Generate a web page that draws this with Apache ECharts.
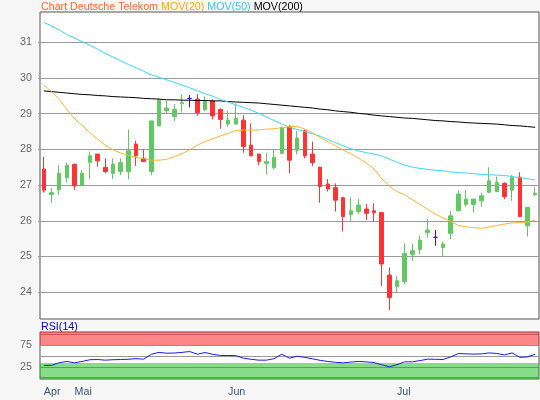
<!DOCTYPE html>
<html>
<head>
<meta charset="utf-8">
<script src="https://cdn.jsdelivr.net/npm/echarts@6/dist/echarts.min.js"></script>
<style>
  html, body { margin: 0; background: #f6f6f6; }
  #chart { width: 540px; height: 400px; }
</style>
</head>
<body>
<div id="chart"></div>
<script>
const FONT = '"Liberation Sans", Arial, sans-serif';

// daily candles
const opens = [27.45, 26.74, 26.88, 27.21, 27.58, 27.00, 27.64, 27.87, 27.50, 27.33,
  27.38, 27.38, 28.15, 27.75, 27.38, 28.66, 29.08, 28.92, 29.28, 29.43,
  29.41, 29.12, 29.36, 29.12, 28.71, 28.71, 28.82, 28.12, 27.87, 27.61,
  27.49, 27.89, 28.64, 27.98, 28.52, 27.87, 27.50, 27.03, 26.93, 26.65,
  26.18, 26.26, 26.33, 26.28, 26.23, 24.48, 24.16, 24.30, 25.06, 25.20,
  25.67, 25.54, 25.25, 25.65, 26.28, 26.46, 26.46, 26.56, 26.80, 26.82,
  27.05, 26.86, 27.22, 25.86, 26.73];
const closes = [26.86, 26.79, 27.33, 27.56, 26.98, 27.33, 27.82, 27.68, 27.38, 27.59,
  27.63, 27.96, 27.82, 27.66, 28.80, 29.38, 29.16, 29.12, 29.31, 29.43,
  29.03, 29.34, 28.94, 28.84, 28.82, 28.87, 28.08, 27.82, 27.66, 27.66,
  27.78, 28.62, 27.70, 28.32, 27.82, 27.63, 26.96, 26.89, 26.58, 26.12,
  26.28, 26.44, 26.21, 26.23, 24.79, 23.85, 24.32, 25.09, 25.16, 25.46,
  25.74, 25.54, 25.35, 26.14, 26.75, 26.61, 26.61, 26.70, 27.12, 27.08,
  26.68, 27.22, 26.12, 26.38, 26.77];
const lows = [26.79, 26.50, 26.72, 27.07, 26.86, 27.00, 27.17, 27.52, 27.33, 27.17,
  27.28, 27.16, 27.54, 27.66, 27.28, 28.66, 29.01, 28.80, 29.03, 29.18,
  28.94, 29.08, 28.84, 28.58, 28.64, 28.70, 27.91, 27.82, 27.56, 27.30,
  27.45, 27.87, 27.33, 27.86, 27.75, 27.54, 26.51, 26.82, 26.26, 25.70,
  26.00, 26.18, 26.02, 25.98, 24.18, 23.50, 24.00, 24.23, 24.88, 25.07,
  25.53, 25.30, 25.02, 25.49, 26.28, 26.40, 26.23, 26.40, 26.77, 26.80,
  26.61, 26.56, 26.12, 25.56, 26.70];
const highs = [27.79, 26.92, 27.56, 27.63, 27.61, 27.42, 27.94, 27.87, 27.75, 27.75,
  27.75, 28.56, 28.24, 28.00, 28.80, 29.43, 29.36, 29.27, 29.55, 29.52,
  29.55, 29.50, 29.40, 29.15, 29.08, 29.29, 28.96, 28.73, 27.87, 27.91,
  27.98, 28.62, 28.68, 28.52, 28.56, 28.22, 27.52, 27.17, 27.05, 26.65,
  26.65, 26.61, 26.47, 26.49, 26.23, 24.69, 24.46, 25.37, 25.35, 25.58,
  26.05, 25.74, 25.42, 26.28, 26.86, 26.86, 26.61, 26.79, 27.50, 27.24,
  27.08, 27.28, 27.36, 26.38, 26.94];

const mov20 = [29.80, 29.62, 29.40, 29.12, 28.86, 28.67, 28.47, 28.29, 28.12, 27.99,
  27.90, 27.83, 27.78, 27.74, 27.70, 27.70, 27.72, 27.80, 27.88, 27.99,
  28.12, 28.22, 28.30, 28.38, 28.45, 28.53, 28.54, 28.54, 28.55, 28.57,
  28.58, 28.61, 28.64, 28.64, 28.57, 28.47, 28.33, 28.22, 28.10, 27.98,
  27.88, 27.76, 27.62, 27.46, 27.18, 26.98, 26.82, 26.73, 26.59, 26.46,
  26.33, 26.19, 26.08, 25.98, 25.87, 25.83, 25.81, 25.79, 25.83, 25.87,
  25.91, 25.94, 25.95, 25.97, 26.02];
const mov50 = [31.56, 31.46, 31.35, 31.22, 31.12, 31.02, 30.92, 30.81, 30.69, 30.59,
  30.49, 30.38, 30.29, 30.19, 30.09, 30.02, 29.95, 29.88, 29.80, 29.73,
  29.64, 29.56, 29.49, 29.40, 29.33, 29.25, 29.18, 29.10, 29.01, 28.91,
  28.81, 28.71, 28.62, 28.56, 28.50, 28.44, 28.37, 28.28, 28.19, 28.10,
  28.02, 27.96, 27.91, 27.87, 27.82, 27.73, 27.64, 27.56, 27.50, 27.47,
  27.44, 27.42, 27.40, 27.37, 27.35, 27.34, 27.32, 27.30, 27.29, 27.28,
  27.27, 27.24, 27.21, 27.18, 27.14];
const mov200 = [29.64, 29.62, 29.60, 29.58, 29.56, 29.54, 29.53, 29.51, 29.50, 29.48,
  29.47, 29.46, 29.45, 29.43, 29.42, 29.41, 29.39, 29.39, 29.38, 29.38,
  29.37, 29.37, 29.36, 29.36, 29.34, 29.33, 29.32, 29.31, 29.30, 29.28,
  29.26, 29.24, 29.22, 29.20, 29.18, 29.16, 29.13, 29.11, 29.08, 29.06,
  29.04, 29.01, 28.99, 28.96, 28.94, 28.92, 28.90, 28.88, 28.87, 28.85,
  28.83, 28.81, 28.80, 28.78, 28.77, 28.75, 28.74, 28.73, 28.72, 28.71,
  28.69, 28.67, 28.66, 28.64, 28.62];

const rsi = [28.4, 28.4, 34.5, 37.5, 34.3, 37.5, 41.5, 42, 40.5, 41.5,
  42, 42.5, 44, 42.8, 54, 58.5, 56.5, 57, 58.5, 60.4,
  54.2, 58.1, 54, 51.3, 51.3, 51, 45, 42.5, 40.5, 40.5,
  44, 54.2, 45, 49.7, 47, 43.5, 40, 37.5, 35.5, 34.3,
  36, 37.5, 36.5, 35, 30, 25.2, 30, 36.6, 36.6, 39.5,
  42.8, 42.5, 42, 48, 55.8, 55, 54.5, 55, 57.2, 56,
  52.6, 57.2, 47, 48, 54.2];

// first trading day of each month (category index) and its label
const monthStarts = [0, 4, 24, 46];
const monthLabels = ['Apr', 'Mai', 'Jun', 'Jul'];

const priceTicks = [24, 25, 26, 27, 28, 29, 30, 31];
const rsiGrid = [0, 25, 50, 75, 100];
const rsiLabels = [25, 75];
const rsiHighBand = [75, 105.5];
const rsiLowBand = [-3, 34];

const days = opens.map((_, i) => String(i));
const candles = opens.map((o, i) => [o, closes[i], lows[i], highs[i]]);
const isMonthStart = (index) => monthStarts.includes(index);

const UP = '#62c962';
const DOWN = '#ff3333';
const AXIS_TEXT = '#3d5470';

const chart = echarts.init(document.getElementById('chart'));
chart.setOption({
  animation: false,
  backgroundColor: '#f6f6f6',
  textStyle: { fontFamily: FONT },
  title: [
    {
      text: '{a|Chart Deutsche Telekom} {b|MOV(20)} {c|MOV(50)} {d|MOV(200)}',
      left: 41,
      top: 2,
      padding: 0,
      textStyle: {
        fontFamily: FONT,
        fontSize: 10.7,
        fontWeight: 'normal',
        rich: {
          a: { color: '#ff6633', fontSize: 10.7, fontFamily: FONT },
          b: { color: '#ffaa00', fontSize: 10.7, fontFamily: FONT },
          c: { color: '#33ccee', fontSize: 10.7, fontFamily: FONT },
          d: { color: '#000000', fontSize: 10.7, fontFamily: FONT },
        },
      },
    },
    {
      text: 'RSI(14)',
      left: 41,
      top: 322,
      padding: 0,
      textStyle: { color: '#0000ee', fontFamily: FONT, fontSize: 10.7, fontWeight: 'normal' },
    },
  ],
  grid: [
    { left: 40, right: 1, top: 12, height: 307, show: true, backgroundColor: '#fff', borderColor: '#555', borderWidth: 1 },
    { left: 40, right: 1, top: 332, height: 47, show: true, backgroundColor: '#fff', borderColor: '#555', borderWidth: 1 },
  ],
  xAxis: [
    { type: 'category', gridIndex: 0, data: days, boundaryGap: true, show: false },
    {
      type: 'category',
      gridIndex: 1,
      data: days,
      boundaryGap: true,
      axisLine: { show: false },
      axisTick: { alignWithLabel: true, interval: isMonthStart, length: 4, lineStyle: { color: AXIS_TEXT } },
      axisLabel: {
        interval: isMonthStart,
        formatter: (value, index) => monthLabels[monthStarts.indexOf(index)] || '',
        align: 'left',
        margin: 8,
        color: AXIS_TEXT,
        fontFamily: FONT,
        fontSize: 10.7,
      },
      splitLine: { show: false },
    },
  ],
  yAxis: [
    {
      type: 'value',
      gridIndex: 0,
      min: 23.25,
      max: 31.85,
      axisLine: { show: false },
      axisTick: { show: true, length: 2, customValues: priceTicks, lineStyle: { color: '#999' } },
      axisLabel: { customValues: priceTicks, color: '#666', fontFamily: FONT, fontSize: 10.7, margin: 8 },
      splitLine: { lineStyle: { color: '#999', width: 1 } },
    },
    {
      type: 'value',
      gridIndex: 1,
      min: -3,
      max: 105.5,
      axisLine: { show: false },
      axisTick: { show: false, customValues: rsiGrid },
      axisLabel: { customValues: rsiLabels, color: '#666', fontFamily: FONT, fontSize: 10.7, margin: 8 },
      splitLine: { lineStyle: { color: '#999', width: 1 } },
    },
  ],
  series: [
    {
      type: 'candlestick',
      xAxisIndex: 0,
      yAxisIndex: 0,
      data: candles,
      barWidth: 4,
      itemStyle: {
        color: UP,
        color0: DOWN,
        borderColor: UP,
        borderColor0: DOWN,
        borderColorDoji: '#3a10cc',
        borderWidth: 1,
      },
    },
    { type: 'line', xAxisIndex: 0, yAxisIndex: 0, data: mov200, symbol: 'none', lineStyle: { color: '#000', width: 1 }, z: 3 },
    { type: 'line', xAxisIndex: 0, yAxisIndex: 0, data: mov50, symbol: 'none', lineStyle: { color: '#3ad8f6', width: 1 }, z: 3 },
    { type: 'line', xAxisIndex: 0, yAxisIndex: 0, data: mov20, symbol: 'none', lineStyle: { color: '#ffb52e', width: 1 }, z: 3 },
    {
      type: 'line',
      xAxisIndex: 1,
      yAxisIndex: 1,
      data: rsi,
      symbol: 'none',
      lineStyle: { color: '#1a1aee', width: 1 },
      z: 3,
      markArea: {
        silent: true,
        data: [
          [{ yAxis: rsiHighBand[0], itemStyle: { color: 'rgba(255,0,0,0.47)' } }, { yAxis: rsiHighBand[1] }],
          [{ yAxis: rsiLowBand[0], itemStyle: { color: 'rgba(0,180,0,0.47)' } }, { yAxis: rsiLowBand[1] }],
        ],
      },
    },
  ],
});
</script>
</body>
</html>
